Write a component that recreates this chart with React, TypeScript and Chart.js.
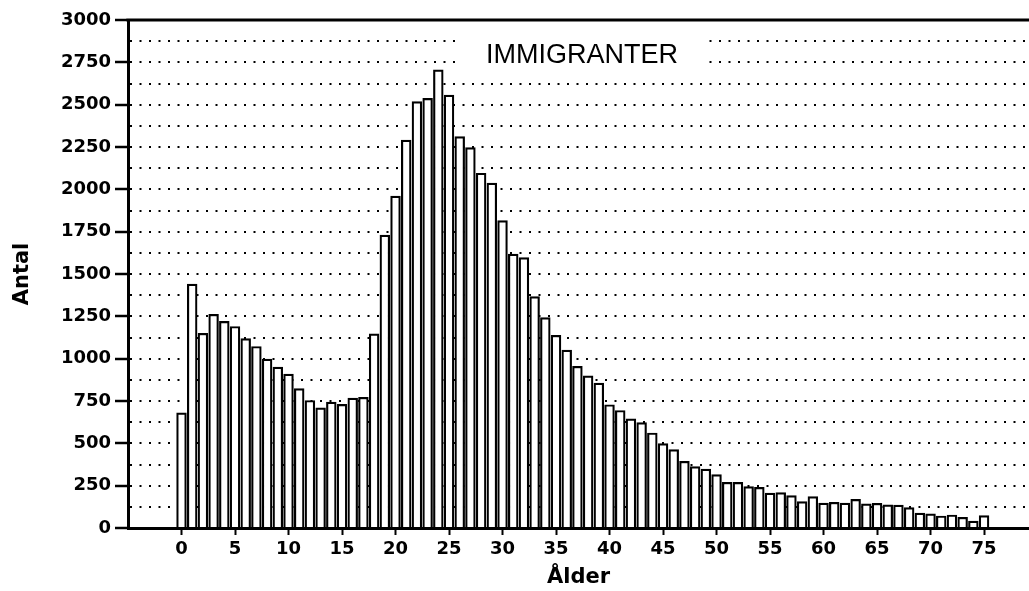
import React, { useEffect, useRef } from 'react';
import { Chart, registerables } from 'chart.js';

Chart.register(...registerables);

// ---- data ----
const ages = [
  0, 1, 2, 3, 4, 5, 6, 7, 8, 9,
  10, 11, 12, 13, 14, 15, 16, 17, 18, 19,
  20, 21, 22, 23, 24, 25, 26, 27, 28, 29,
  30, 31, 32, 33, 34, 35, 36, 37, 38, 39,
  40, 41, 42, 43, 44, 45, 46, 47, 48, 49,
  50, 51, 52, 53, 54, 55, 56, 57, 58, 59,
  60, 61, 62, 63, 64, 65, 66, 67, 68, 69,
  70, 71, 72, 73, 74, 75,
];
const counts = [
  680, 1440, 1150, 1262, 1220, 1190, 1118, 1072, 997, 950,
  909, 823, 753, 710, 743, 730, 767, 772, 1147, 1730,
  1960, 2291, 2518, 2537, 2706, 2557, 2311, 2247, 2095, 2037,
  1815, 1618, 1597, 1367, 1243, 1138, 1051, 955, 898, 856,
  728, 694, 645, 622, 561, 498, 463, 394, 362, 348,
  315, 270, 269, 245, 240, 206, 209, 191, 156, 185,
  147, 152, 147, 169, 143, 146, 137, 135, 120, 88,
  84, 71, 77, 63, 41, 73,
];
const xTickValues = [0, 5, 10, 15, 20, 25, 30, 35, 40, 45, 50, 55, 60, 65, 70, 75];
const yTickLabels = [0, 250, 500, 750, 1000, 1250, 1500, 1750, 2000, 2250, 2500, 2750, 3000];
const yGridValues = [
  0, 125, 250, 375, 500, 625, 750, 875, 1000, 1125, 1250, 1375, 1500,
  1625, 1750, 1875, 2000, 2125, 2250, 2375, 2500, 2625, 2750, 2875, 3000,
];
const chartTitle = 'IMMIGRANTER';
const xTitle = 'Ålder';
const yTitle = 'Antal';

const tickFont = { family: '"DejaVu Sans", sans-serif', size: 18, weight: 'bold' as const };
const axisTitleFont = { family: '"DejaVu Sans", sans-serif', size: 21, weight: 'bold' as const };

const framePlugin = {
  id: 'frame',
  afterDatasetsDraw(chart: any) {
    const { ctx } = chart;
    ctx.save();
    // title box covering the grid lines
    ctx.fillStyle = '#fff';
    ctx.fillRect(460, 32, 245, 44);
    ctx.fillStyle = '#000';
    ctx.font = '27px "Liberation Sans", Arial, sans-serif';
    ctx.textAlign = 'center';
    ctx.textBaseline = 'middle';
    ctx.fillText(chartTitle, 582, 56);
    ctx.restore();
  },
  afterDraw(chart: any) {
    const { ctx, chartArea } = chart;
    ctx.save();
    ctx.strokeStyle = '#000';
    ctx.lineWidth = 3;
    ctx.beginPath();
    ctx.moveTo(chartArea.left - 1.5, chartArea.top);
    ctx.lineTo(chartArea.right, chartArea.top);
    ctx.stroke();
    ctx.restore();
  },
};

export default function App() {
  const canvasRef = useRef<HTMLCanvasElement | null>(null);

  useEffect(() => {
    if (!canvasRef.current) return;
    const chart = new Chart(canvasRef.current, {
      type: 'bar',
      data: {
        datasets: [
          {
            data: ages.map((a, i) => ({ x: a, y: counts[i] })),
            backgroundColor: '#ffffff',
            borderColor: '#000000',
            borderWidth: 2.2,
            barThickness: 9.8,
            borderSkipped: 'start',
          } as any,
        ],
      },
      options: {
        animation: false,
        responsive: true,
        maintainAspectRatio: false,
        devicePixelRatio: 1,
        layout: { padding: { top: 20, left: 0, right: 0, bottom: 0 } },
        plugins: {
          legend: { display: false },
          tooltip: { enabled: false },
          title: { display: false },
        },
        scales: {
          x: {
            type: 'linear',
            min: -5,
            max: 79.2,
            offset: false,
            afterBuildTicks: (s: any) => {
              s.ticks = xTickValues.map((v) => ({ value: v }));
            },
            afterFit: (s: any) => {
              s.height = 63;
            },
            grid: {
              offset: false,
              drawOnChartArea: false,
              drawTicks: true,
              tickLength: 7,
              tickWidth: 2,
              tickColor: '#000',
              color: '#000',
            },
            border: { display: true, color: '#000', width: 3 },
            ticks: {
              autoSkip: false,
              maxRotation: 0,
              color: '#000',
              padding: 4,
              font: tickFont,
              callback: (v: any) => String(v),
            },
            title: {
              display: true,
              text: xTitle,
              color: '#000',
              font: axisTitleFont,
              padding: { top: 0, bottom: 1 },
            },
          },
          y: {
            type: 'linear',
            min: 0,
            max: 3000,
            afterBuildTicks: (s: any) => {
              s.ticks = yGridValues.map((v) => ({ value: v }));
            },
            afterFit: (s: any) => {
              s.width = 128;
            },
            grid: {
              color: (c: any) => (c.tick && c.tick.value === 3000 ? 'rgba(0,0,0,0)' : '#000'),
              lineWidth: 2,
              drawTicks: true,
              tickLength: 13,
              tickWidth: 2.5,
              tickColor: (c: any) =>
                c.tick && yTickLabels.includes(c.tick.value) ? '#000' : 'rgba(0,0,0,0)',
            },
            border: { display: true, color: '#000', width: 3, dash: [2, 7.5], dashOffset: 0 },
            ticks: {
              autoSkip: false,
              color: '#000',
              padding: 4,
              font: tickFont,
              callback: (v: any) => (yTickLabels.includes(Number(v)) ? String(v) : ''),
            },
            title: {
              display: true,
              text: yTitle,
              color: '#000',
              font: axisTitleFont,
              padding: { top: 10, bottom: 0 },
            },
          },
        },
      } as any,
      plugins: [framePlugin],
    });
    return () => chart.destroy();
  }, []);

  return (
    <div style={{ position: 'absolute', left: 0, top: 0, width: 1029, height: 591, background: '#fff' }}>
      <canvas ref={canvasRef} />
    </div>
  );
}
